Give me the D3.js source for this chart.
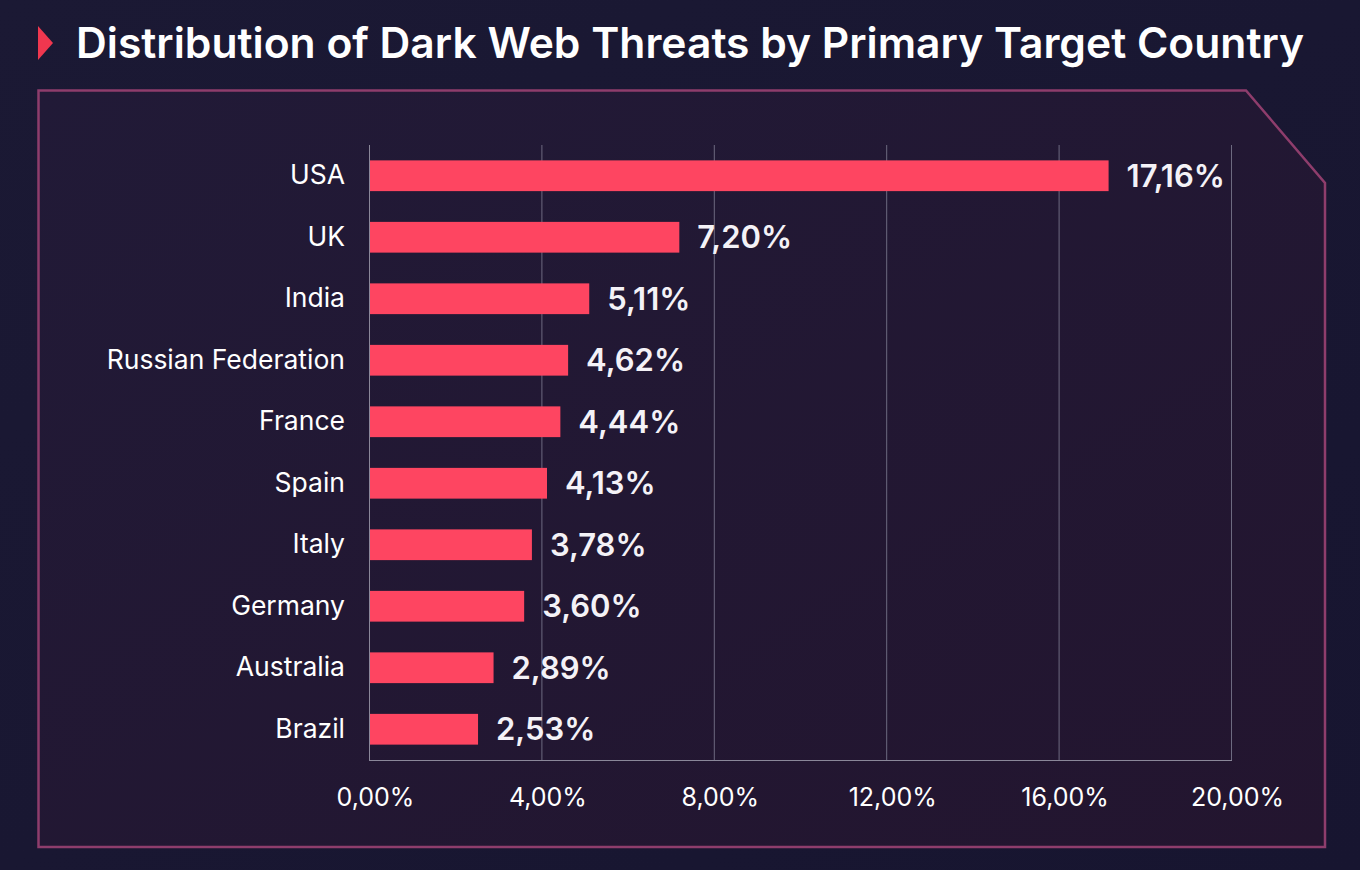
<!DOCTYPE html>
<html><head><meta charset="utf-8">
<script src="https://cdn.jsdelivr.net/npm/d3@7"></script>
<style>
html,body{margin:0;padding:0;background:#19172f;}
svg{display:block;font-family:Inter,"Noto Sans",sans-serif;}
</style></head>
<body>
<svg id="chart" width="1360" height="870"></svg>
<script>
const categories = ["USA","UK","India","Russian Federation","France","Spain","Italy","Germany","Australia","Brazil"];
const values = [17.16,7.20,5.11,4.62,4.44,4.13,3.78,3.60,2.89,2.53];
const tickValues = [0,4,8,12,16,20];
const title = "Distribution of Dark Web Threats by Primary Target Country";

const fmt = v => d3.format(".2f")(v).replace(".", ",") + "%";

const svg = d3.select("#chart");
const defs = svg.append("defs");
const bg = defs.append("linearGradient").attr("id","bg").attr("x1","0").attr("y1","0").attr("x2","1").attr("y2","1");
bg.append("stop").attr("offset","0").attr("stop-color","#1b1934");
bg.append("stop").attr("offset","1").attr("stop-color","#171530");
svg.append("rect").attr("width",1360).attr("height",870).attr("fill","url(#bg)");

const fg = defs.append("linearGradient").attr("id","fg").attr("x1","0").attr("y1","0").attr("x2","1").attr("y2","1");
fg.append("stop").attr("offset","0").attr("stop-color","#211a37");
fg.append("stop").attr("offset","1").attr("stop-color","#23152f");

// frame with cut corner
const fp = d3.path();
fp.moveTo(38.5,90.5); fp.lineTo(1246,90.5); fp.lineTo(1325,183); fp.lineTo(1325,847); fp.lineTo(38.5,847); fp.closePath();
svg.append("path").attr("d",fp.toString()).attr("fill","url(#fg)").attr("stroke","#8e3d6c").attr("stroke-width",2.5);

// title
svg.append("path").attr("d","M38,26 L53,43 L38,60 Z").attr("fill","#f0374f");
svg.append("text").attr("x",76).attr("y",58).attr("fill","#ffffff").attr("font-size",42.6).attr("font-weight",600).text(title);

const x = d3.scaleLinear().domain([0,20]).range([369,1231]);
const y = d3.scaleBand().domain(categories).range([145,760]).paddingInner(0.5).paddingOuter(0.25);

// gridlines
svg.append("g").selectAll("line").data(tickValues.slice(1)).join("line")
  .attr("x1",d=>x(d)+0.5).attr("x2",d=>x(d)+0.5).attr("y1",145).attr("y2",760)
  .attr("stroke","#6d6a80").attr("stroke-width",1);

// bars
svg.append("g").selectAll("rect").data(values).join("rect")
  .attr("x",x(0)).attr("y",(d,i)=>y(categories[i]))
  .attr("width",d=>x(d)-x(0)).attr("height",y.bandwidth())
  .attr("fill","#fe4561");

// axes lines
svg.append("line").attr("x1",x(0)+0.5).attr("x2",x(0)+0.5).attr("y1",145).attr("y2",760).attr("stroke","#8a8799");
svg.append("line").attr("x1",x(0)).attr("x2",x(20)+1).attr("y1",760.5).attr("y2",760.5).attr("stroke","#8a8799");

// x axis labels
const xAxis = d3.axisBottom(x).tickValues(tickValues).tickFormat(fmt).tickSize(0).tickPadding(0);
const gx = svg.append("g").attr("transform","translate(6,806)").call(xAxis);
gx.select(".domain").remove();
gx.selectAll("text").attr("fill","#ffffff").attr("font-size",25).attr("font-family","Inter,sans-serif").attr("dy",0);

// y axis labels
const yAxis = d3.axisLeft(y).tickSize(0).tickPadding(0);
const gy = svg.append("g").attr("transform","translate(345,-1)").call(yAxis);
gy.select(".domain").remove();
gy.selectAll("text").attr("fill","#ffffff").attr("font-size",26.5).attr("font-family","Inter,sans-serif").attr("dy","0.35em");

// value labels
svg.append("g").selectAll("text").data(values).join("text")
  .attr("x",d=>x(d)+18).attr("y",(d,i)=>y(categories[i])+y.bandwidth()/2)
  .attr("dy","0.36em").attr("fill","#f4f2f7").attr("font-size",31).attr("font-weight",600)
  .text(d=>fmt(d));
</script>
</body></html>
